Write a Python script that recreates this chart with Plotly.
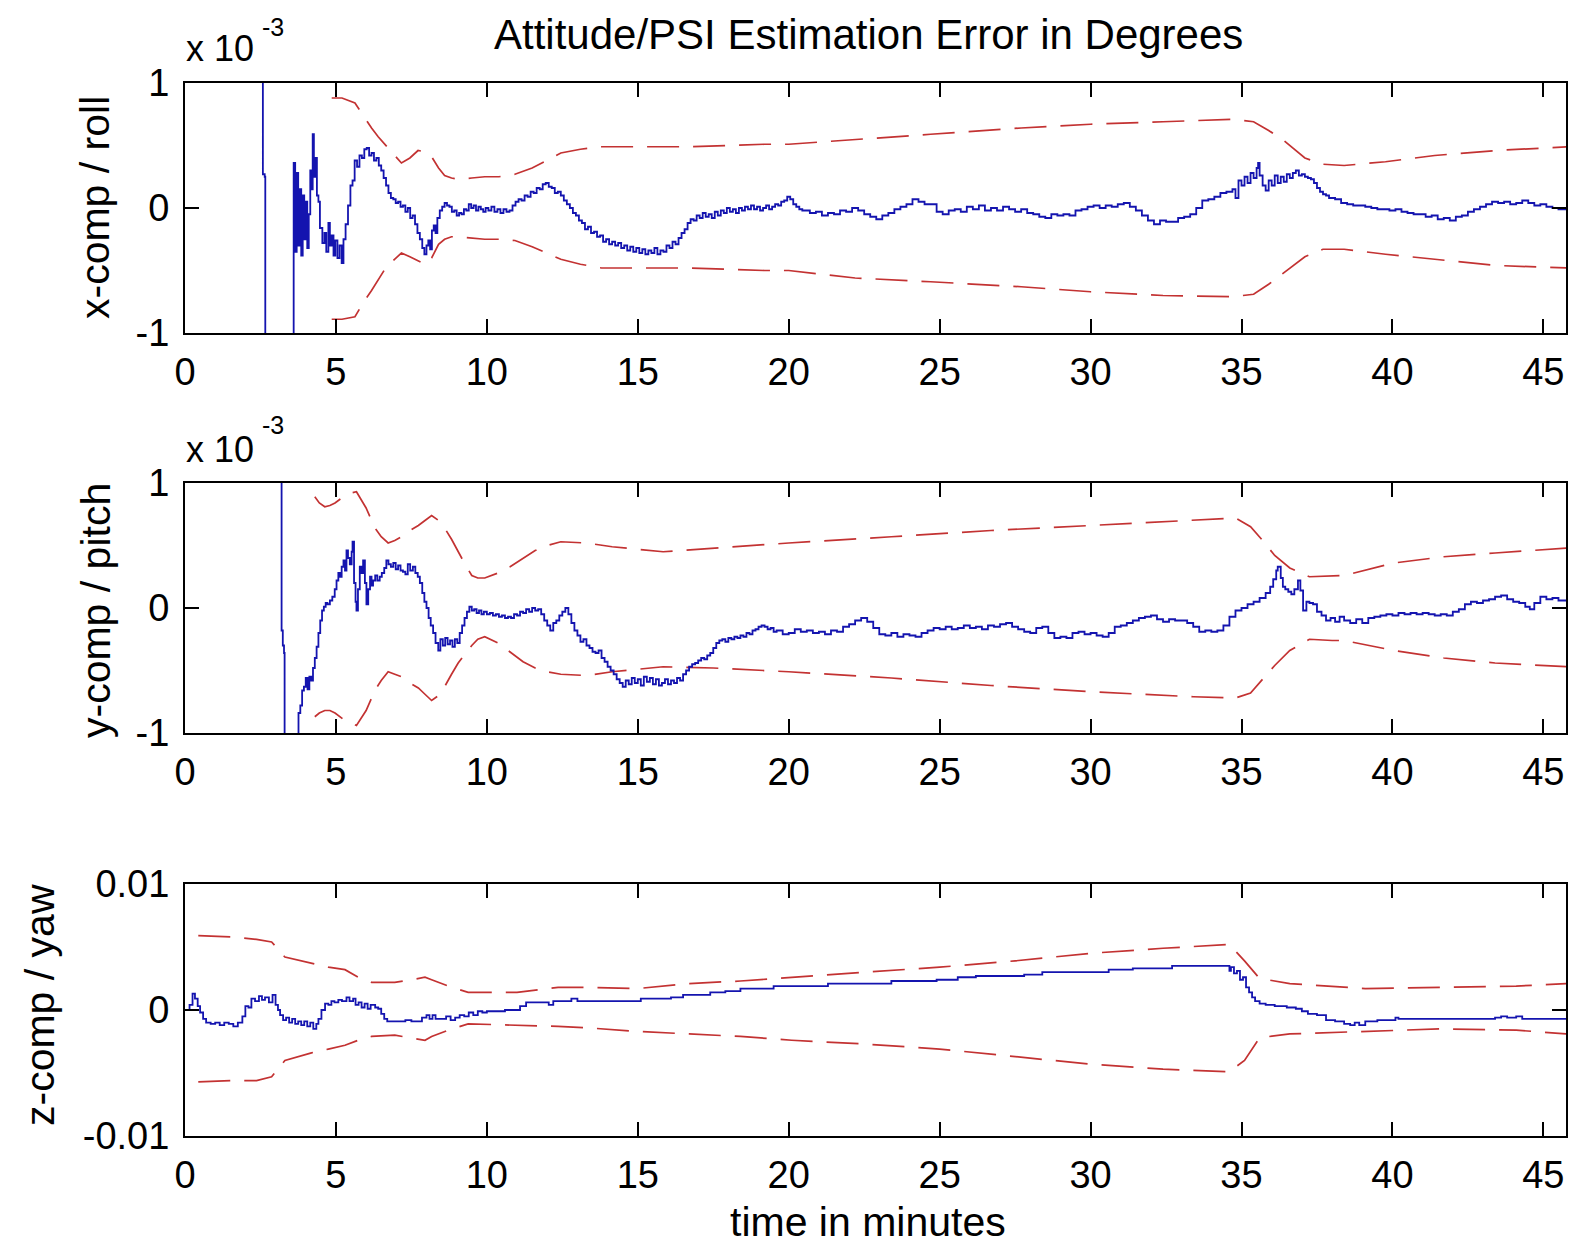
import plotly.graph_objects as go

# ---------------- data (values in units of 1e-3 degrees) ----------------
t_roll = [2.55, 2.58, 2.64, 2.66, 3.58, 3.60, 3.65, 3.70, 3.75, 3.80, 3.85, 3.90, 3.95, 4.00, 4.05, 4.10,
          4.15, 4.20, 4.23, 4.27, 4.32, 4.37, 4.42, 4.47, 4.55, 4.62, 4.68, 4.75, 4.80, 4.86, 4.92, 4.98,
          5.05, 5.12, 5.19, 5.25, 5.32, 5.40, 5.48, 5.55, 5.62, 5.70, 5.78, 5.86, 5.94, 6.02, 6.10, 6.18,
          6.26, 6.34, 6.42, 6.50, 6.58, 6.66, 6.74, 6.82, 6.90, 6.98, 7.06, 7.14, 7.22, 7.30, 7.38, 7.46,
          7.54, 7.62, 7.70, 7.78, 7.86, 7.93, 8.00, 8.06, 8.12, 8.18, 8.24, 8.30, 8.36, 8.44, 8.52, 8.60,
          8.68, 8.76, 8.84, 8.92, 9.00, 9.08, 9.16, 9.24, 9.32, 9.40, 9.48, 9.56, 9.64, 9.72, 9.80, 9.88,
          9.96, 10.05, 10.15, 10.25, 10.35, 10.45, 10.55, 10.65, 10.75, 10.85, 10.95, 11.05, 11.15, 11.25,
          11.35, 11.45, 11.55, 11.65, 11.75, 11.85, 11.95, 12.05, 12.15, 12.25, 12.35, 12.45, 12.55, 12.65,
          12.75, 12.85, 12.95, 13.05, 13.15, 13.25, 13.35, 13.45, 13.55, 13.65, 13.75, 13.85, 13.95, 14.05,
          14.15, 14.25, 14.35, 14.45, 14.55, 14.65, 14.75, 14.85, 14.95, 15.05, 15.15, 15.25, 15.35, 15.45,
          15.55, 15.65, 15.75, 15.85, 15.95, 16.05, 16.15, 16.25, 16.35, 16.45, 16.55, 16.65, 16.75, 16.85,
          16.95, 17.05, 17.15, 17.25, 17.35, 17.45, 17.55, 17.65, 17.75, 17.85, 17.95, 18.05, 18.15, 18.25,
          18.35, 18.45, 18.55, 18.65, 18.75, 18.85, 18.95, 19.05, 19.15, 19.25, 19.35, 19.45, 19.55, 19.65,
          19.75, 19.85, 19.95, 20.05, 20.15, 20.25, 20.35, 20.45, 20.5, 20.7, 20.9, 21.1, 21.3, 21.5, 21.7,
          21.9, 22.1, 22.3, 22.5, 22.7, 22.9, 23.1, 23.3, 23.5, 23.7, 23.9, 24.1, 24.3, 24.5, 24.7, 24.9,
          25.1, 25.3, 25.5, 25.7, 25.9, 26.1, 26.3, 26.5, 26.7, 26.9, 27.1, 27.3, 27.5, 27.7, 27.9, 28.1,
          28.3, 28.5, 28.7, 28.9, 29.1, 29.3, 29.5, 29.7, 29.9, 30.1, 30.3, 30.5, 30.7, 30.9, 31.1, 31.3,
          31.5, 31.7, 31.9, 32.1, 32.3, 32.5, 32.7, 32.9, 33.1, 33.3, 33.5, 33.7, 33.9, 34.1, 34.3, 34.5,
          34.7, 34.8, 34.9, 35.0, 35.1, 35.2, 35.3, 35.4, 35.5, 35.55, 35.6, 35.7, 35.8, 35.9, 36.0, 36.1,
          36.2, 36.3, 36.4, 36.5, 36.6, 36.7, 36.8, 36.9, 37.0, 37.1, 37.2, 37.3, 37.4, 37.5, 37.6, 37.7,
          37.8, 37.9, 38.1, 38.3, 38.5, 38.7, 38.9, 39.1, 39.3, 39.5, 39.7, 39.9, 40.1, 40.3, 40.5, 40.7,
          40.9, 41.1, 41.3, 41.5, 41.7, 41.9, 42.1, 42.3, 42.5, 42.7, 42.9, 43.1, 43.3, 43.5, 43.7, 43.9,
          44.1, 44.3, 44.5, 44.7, 44.9, 45.1, 45.3, 45.5, 45.8]
roll = [8, 0.27, 0.25, -8, -8, 0.36, -0.35, 0.28, -0.30, 0.15, -0.38, 0.10, -0.25, 0.05, -0.32, -0.05,
        0.30, 0.15, 0.59, 0.25, 0.40, 0.10, 0.05, -0.16, -0.28, -0.20, -0.35, -0.12, -0.30, -0.22, -0.38, -0.26,
        -0.40, -0.30, -0.44, -0.25, -0.13, 0.02, 0.18, 0.22, 0.38, 0.33, 0.42, 0.40, 0.47, 0.48, 0.42, 0.44,
        0.38, 0.40, 0.34, 0.30, 0.24, 0.18, 0.12, 0.08, 0.07, 0.04, 0.05, 0.01, 0.02, -0.03, 0.00, -0.08,
        -0.06, -0.13, -0.20, -0.25, -0.32, -0.37, -0.30, -0.26, -0.33, -0.18, -0.14, -0.20, -0.08, -0.02, 0.01, 0.04,
        0.02, 0.01, -0.03, -0.02, -0.06, -0.04, -0.05, -0.01, -0.02, 0.03, 0.00, 0.02, -0.02, 0.01, -0.01, -0.03,
        0.00, -0.02, 0.01, -0.03, -0.01, -0.04, -0.01, -0.03, -0.02, 0.02, 0.05, 0.07, 0.06, 0.10,
        0.09, 0.13, 0.12, 0.16, 0.15, 0.19, 0.20, 0.17, 0.16, 0.12, 0.13, 0.10, 0.06, 0.03,
        0.00, -0.04, -0.06, -0.10, -0.12, -0.17, -0.15, -0.20, -0.19, -0.23, -0.22, -0.27, -0.25, -0.29,
        -0.27, -0.30, -0.28, -0.32, -0.30, -0.34, -0.31, -0.35, -0.32, -0.36, -0.33, -0.37, -0.34, -0.36,
        -0.32, -0.37, -0.34, -0.35, -0.30, -0.32, -0.27, -0.29, -0.24, -0.20, -0.17, -0.12, -0.09, -0.10,
        -0.06, -0.08, -0.04, -0.07, -0.05, -0.08, -0.03, -0.06, -0.02, -0.04, 0.00, -0.03, -0.01, -0.04,
        0.00, -0.02, 0.01, -0.01, 0.02, -0.01, 0.01, -0.02, 0.00, 0.02, -0.01, 0.01, 0.03, 0.02,
        0.05, 0.06, 0.09, 0.07, 0.03, 0.01, -0.01, -0.02, -0.02, -0.04, -0.03, -0.06, -0.04, -0.05, -0.02,
        -0.03, 0.00, -0.02, -0.05, -0.07, -0.09, -0.06, -0.04, -0.01, 0.01, 0.03, 0.07, 0.05, 0.03, 0.03, -0.03,
        -0.05, -0.02, -0.01, -0.03, 0.01, -0.01, 0.02, -0.02, 0.00, -0.02, 0.01, -0.01, -0.03, -0.01, -0.04, -0.05,
        -0.07, -0.08, -0.05, -0.06, -0.05, -0.06, -0.02, -0.01, 0.01, 0.02, 0.00, 0.02, 0.01, 0.03, 0.04, 0.01,
        -0.02, -0.06, -0.10, -0.13, -0.10, -0.11, -0.11, -0.08, -0.07, -0.05, 0.00, 0.06, 0.07, 0.09, 0.12, 0.13,
        0.15, 0.08, 0.22, 0.18, 0.25, 0.20, 0.28, 0.24, 0.32, 0.36, 0.26, 0.18, 0.14, 0.22, 0.18, 0.26,
        0.20, 0.25, 0.21, 0.27, 0.24, 0.28, 0.30, 0.26, 0.27, 0.25, 0.24, 0.23, 0.20, 0.16, 0.13, 0.11,
        0.10, 0.08, 0.07, 0.04, 0.03, 0.02, 0.02, 0.01, 0.00, -0.01, -0.01, -0.02, -0.01, -0.03, -0.04, -0.05,
        -0.05, -0.07, -0.06, -0.09, -0.08, -0.10, -0.07, -0.06, -0.03, -0.01, 0.01, 0.03, 0.05, 0.04, 0.05, 0.03,
        0.04, 0.06, 0.04, 0.02, 0.03, 0.01, 0.00, -0.01, -0.01]

t_roll_bound = [4.86, 5.2, 5.63, 5.9, 6.18, 6.4, 6.62, 6.9, 7.17, 7.45, 7.72, 7.95, 8.17, 8.4, 8.6, 8.83,
                9.05, 9.5, 9.93, 10.4, 10.93, 11.5, 12.0, 12.45, 13.1, 13.8, 15.0, 16.7, 18.0, 19.2, 20.0,
                22.2, 24.7, 27.7, 30.0, 32.4, 34.7, 35.4, 35.9, 36.4, 36.75, 37.1, 37.7, 38.4, 39.77, 41.4,
                43.45, 45.8]
roll_upper = [0.88, 0.88, 0.84, 0.74, 0.64, 0.57, 0.51, 0.43, 0.36, 0.40, 0.46, 0.45, 0.41, 0.32, 0.26, 0.24,
              0.23, 0.24, 0.25, 0.25, 0.27, 0.32, 0.38, 0.44, 0.47, 0.49, 0.49, 0.49, 0.50, 0.51, 0.51,
              0.55, 0.59, 0.64, 0.67, 0.69, 0.71, 0.69, 0.62, 0.54, 0.47, 0.40, 0.35, 0.34, 0.37, 0.42,
              0.46, 0.49]
roll_lower = [-0.89, -0.89, -0.87, -0.76, -0.66, -0.57, -0.49, -0.42, -0.36, -0.39, -0.42, -0.45, -0.40, -0.29,
              -0.25, -0.23, -0.23, -0.24, -0.25, -0.25, -0.26, -0.31, -0.36, -0.41, -0.45, -0.48, -0.48, -0.48,
              -0.49, -0.50, -0.50, -0.56, -0.59, -0.63, -0.67, -0.70, -0.71, -0.69, -0.61, -0.52, -0.45, -0.39,
              -0.33, -0.33, -0.37, -0.41, -0.46, -0.48]

t_pitch = [3.18, 3.20, 3.24, 3.28, 3.30, 3.74, 3.76, 3.82, 3.88, 3.94, 4.00, 4.06, 4.12, 4.18, 4.24, 4.30,
           4.36, 4.42, 4.48, 4.54, 4.60, 4.66, 4.72, 4.80, 4.88, 4.96, 5.02, 5.08, 5.14, 5.19, 5.25, 5.30,
           5.35, 5.40, 5.46, 5.52, 5.55, 5.60, 5.65, 5.68, 5.73, 5.79, 5.85, 5.90, 5.96, 6.01, 6.07, 6.13,
           6.18, 6.23, 6.30, 6.37, 6.45, 6.52, 6.60, 6.67, 6.74, 6.82, 6.90, 6.98, 7.06, 7.14, 7.22, 7.30,
           7.38, 7.46, 7.55, 7.63, 7.71, 7.78, 7.86, 7.93, 8.00, 8.07, 8.14, 8.22, 8.30, 8.39, 8.46, 8.54,
           8.62, 8.70, 8.78, 8.86, 8.94, 9.02, 9.10, 9.18, 9.26, 9.34, 9.42, 9.50, 9.58, 9.66, 9.74, 9.82,
           9.90, 10.0, 10.1, 10.2, 10.3, 10.4, 10.5, 10.6, 10.7, 10.8, 10.9, 11.0, 11.1, 11.2, 11.3, 11.4,
           11.5, 11.6, 11.7, 11.8, 11.9, 12.0, 12.1, 12.2, 12.3, 12.4, 12.5, 12.6, 12.7, 12.8, 12.9, 13.0,
           13.1, 13.2, 13.3, 13.4, 13.5, 13.6, 13.7, 13.8, 13.9, 14.0, 14.1, 14.2, 14.3, 14.4, 14.5, 14.6,
           14.7, 14.8, 14.9, 15.0, 15.1, 15.2, 15.3, 15.4, 15.5, 15.6, 15.7, 15.8, 15.9, 16.0, 16.1, 16.2,
           16.3, 16.4, 16.5, 16.6, 16.7, 16.8, 16.9, 17.0, 17.1, 17.2, 17.3, 17.4, 17.5, 17.6, 17.7, 17.8,
           17.9, 18.0, 18.1, 18.2, 18.3, 18.4, 18.5, 18.6, 18.7, 18.8, 18.9, 19.0, 19.1, 19.2, 19.3, 19.4,
           19.5, 19.6, 19.8, 20.0, 20.2, 20.4, 20.6, 20.8, 21.0, 21.2, 21.4, 21.6, 21.8, 22.0, 22.2, 22.4,
           22.6, 22.8, 23.0, 23.2, 23.4, 23.6, 23.8, 24.0, 24.2, 24.4, 24.6, 24.8, 25.0, 25.2, 25.4, 25.6,
           25.8, 26.0, 26.2, 26.4, 26.6, 26.8, 27.0, 27.2, 27.4, 27.6, 27.8, 28.0, 28.2, 28.4, 28.6, 28.8,
           29.0, 29.2, 29.4, 29.6, 29.8, 30.0, 30.2, 30.4, 30.6, 30.8, 31.0, 31.2, 31.4, 31.6, 31.8, 32.0,
           32.2, 32.4, 32.6, 32.8, 33.0, 33.2, 33.4, 33.6, 33.8, 34.0, 34.2, 34.4, 34.6, 34.8, 35.0, 35.2,
           35.4, 35.6, 35.8, 35.95, 36.05, 36.15, 36.2, 36.3, 36.37, 36.45, 36.55, 36.65, 36.75, 36.87, 36.95,
           37.04, 37.15, 37.25, 37.37, 37.5, 37.65, 37.8, 37.95, 38.1, 38.25, 38.4, 38.6, 38.8, 39.0, 39.2,
           39.4, 39.6, 39.8, 40.0, 40.2, 40.4, 40.6, 40.8, 41.0, 41.2, 41.4, 41.6, 41.8, 42.0, 42.2, 42.4,
           42.6, 42.8, 43.0, 43.2, 43.4, 43.6, 43.8, 44.0, 44.2, 44.4, 44.55, 44.7, 44.9, 45.1, 45.3, 45.5,
           45.8]
pitch = [8, -0.18, -0.30, -0.36, -8, -8, -0.84, -0.78, -0.66, -0.63, -0.56, -0.65, -0.55, -0.58, -0.48, -0.40,
         -0.31, -0.20, -0.10, -0.02, 0.01, 0.04, 0.03, 0.06, 0.09, 0.15, 0.22, 0.28, 0.25, 0.33, 0.38, 0.30,
         0.46, 0.40, 0.35, 0.45, 0.53, 0.20, 0.05, -0.02, 0.15, 0.33, 0.28, 0.38, 0.20, 0.03, 0.15, 0.25,
         0.18, 0.22, 0.26, 0.22, 0.25, 0.28, 0.32, 0.38, 0.35, 0.33, 0.36, 0.31, 0.34, 0.30, 0.29, 0.27,
         0.35, 0.30, 0.33, 0.28, 0.25, 0.20, 0.12, 0.05, 0.00, -0.08, -0.14, -0.20, -0.28, -0.34, -0.25, -0.30,
         -0.24, -0.29, -0.26, -0.31, -0.25, -0.28, -0.20, -0.14, -0.08, -0.03, 0.01, -0.02, -0.01, -0.04, -0.02, -0.05,
         -0.03, -0.05, -0.04, -0.06, -0.05, -0.07, -0.06, -0.08, -0.07, -0.08, -0.05, -0.06, -0.03, -0.04, -0.01, -0.03,
         0.00, -0.02, -0.01, -0.05, -0.10, -0.14, -0.18, -0.12, -0.10, -0.06, -0.03, 0.00, -0.05, -0.12, -0.18, -0.22,
         -0.27, -0.25, -0.30, -0.32, -0.35, -0.36, -0.34, -0.40, -0.43, -0.47, -0.50, -0.53, -0.57, -0.60, -0.63, -0.58,
         -0.61, -0.56, -0.60, -0.57, -0.62, -0.55, -0.59, -0.56, -0.61, -0.57, -0.62, -0.60, -0.57, -0.61, -0.58, -0.60,
         -0.56, -0.58, -0.53, -0.50, -0.47, -0.45, -0.44, -0.42, -0.40, -0.41, -0.38, -0.36, -0.32, -0.28, -0.26, -0.25,
         -0.27, -0.24, -0.25, -0.23, -0.24, -0.22, -0.23, -0.20, -0.21, -0.18, -0.17, -0.15, -0.14, -0.15, -0.17, -0.16,
         -0.19, -0.18, -0.21, -0.20, -0.17, -0.19, -0.18, -0.20, -0.19, -0.21, -0.18, -0.19, -0.15, -0.13, -0.10, -0.08,
         -0.11, -0.16, -0.21, -0.22, -0.20, -0.23, -0.21, -0.22, -0.23, -0.20, -0.18, -0.16, -0.17, -0.15, -0.17, -0.16,
         -0.14, -0.16, -0.15, -0.17, -0.14, -0.15, -0.13, -0.12, -0.15, -0.17, -0.19, -0.20, -0.16, -0.15, -0.20, -0.24,
         -0.23, -0.24, -0.20, -0.19, -0.21, -0.20, -0.22, -0.23, -0.20, -0.15, -0.14, -0.12, -0.10, -0.08, -0.07, -0.06,
         -0.09, -0.11, -0.09, -0.10, -0.10, -0.12, -0.15, -0.19, -0.18, -0.19, -0.18, -0.14, -0.07, -0.02, 0.00, 0.03,
         0.05, 0.08, 0.12, 0.17, 0.23, 0.30, 0.33, 0.24, 0.17, 0.15, 0.13, 0.11, 0.15, 0.22, 0.14,
         -0.02, 0.05, 0.04, 0.03, -0.03, -0.06, -0.10, -0.08, -0.11, -0.07, -0.10, -0.12, -0.09, -0.12, -0.08,
         -0.07, -0.06, -0.05, -0.06, -0.04, -0.05, -0.04, -0.05, -0.04, -0.05, -0.06, -0.05, -0.06, -0.03, -0.01, 0.03,
         0.05, 0.04, 0.06, 0.07, 0.09, 0.10, 0.07, 0.05, 0.04, 0.01, -0.01, 0.04, 0.09, 0.07, 0.08, 0.06,
         0.07]

t_pitch_bound = [4.3, 4.45, 4.63, 4.8, 4.97, 5.15, 5.3, 5.5, 5.68, 6.0, 6.29, 6.5, 6.73, 6.95, 7.17, 7.45,
                 7.73, 7.95, 8.17, 8.4, 8.6, 8.83, 9.05, 9.3, 9.5, 9.7, 9.93, 10.37, 10.77, 11.2, 11.6, 12.0,
                 12.45, 13.3, 14.15, 15.84, 17.5, 20.0, 23.4, 26.7, 30.0, 33.4, 34.8, 35.3, 35.7, 36.1, 36.6,
                 37.25, 38.0, 38.4, 40.05, 41.7, 43.4, 45.8]
pitch_upper = [0.89, 0.84, 0.81, 0.82, 0.84, 0.87, 0.90, 0.92, 0.93, 0.80, 0.64, 0.57, 0.52, 0.54, 0.57, 0.62,
               0.66, 0.70, 0.74, 0.70, 0.64, 0.55, 0.45, 0.34, 0.26, 0.24, 0.24, 0.28, 0.33, 0.40, 0.46, 0.50,
               0.53, 0.52, 0.49, 0.45, 0.48, 0.52, 0.57, 0.62, 0.66, 0.70, 0.72, 0.65, 0.54, 0.42, 0.32,
               0.25, 0.26, 0.26, 0.36, 0.41, 0.44, 0.48]
pitch_lower = [-0.87, -0.84, -0.82, -0.82, -0.84, -0.87, -0.90, -0.92, -0.94, -0.82, -0.66, -0.58, -0.51, -0.53,
               -0.55, -0.60, -0.64, -0.69, -0.74, -0.70, -0.63, -0.53, -0.44, -0.36, -0.30, -0.25, -0.23, -0.28,
               -0.35, -0.43, -0.48, -0.51, -0.53, -0.54, -0.51, -0.47, -0.48, -0.51, -0.56, -0.62, -0.67, -0.71,
               -0.72, -0.68, -0.57, -0.46, -0.34, -0.25, -0.26, -0.26, -0.34, -0.40, -0.44, -0.47]

t_yaw = [0.0, 0.15, 0.25, 0.33, 0.42, 0.5, 0.6, 0.7, 0.85, 1.0, 1.15, 1.3, 1.45, 1.6, 1.75, 1.9, 2.0, 2.1,
         2.2, 2.32, 2.45, 2.55, 2.65, 2.78, 2.9, 3.0, 3.08, 3.15, 3.25, 3.35, 3.45, 3.55, 3.65, 3.75, 3.85,
         3.95, 4.05, 4.15, 4.25, 4.35, 4.42, 4.52, 4.64, 4.75, 4.85, 4.95, 5.08, 5.2, 5.35, 5.45, 5.57, 5.65,
         5.75, 5.85, 5.95, 6.05, 6.15, 6.3, 6.4, 6.5, 6.6, 6.7, 6.9, 7.1, 7.3, 7.5, 7.7, 7.85, 8.0, 8.1, 8.2,
         8.3, 8.5, 8.65, 8.8, 8.95, 9.1, 9.25, 9.4, 9.55, 9.7, 9.85, 10.0, 10.3, 10.6, 10.9, 11.1, 11.3, 11.6,
         11.9, 12.05, 12.2, 12.5, 12.8, 13.0, 13.3, 13.8, 14.3, 14.8, 15.1, 15.6, 16.1, 16.5, 17.0, 17.4, 17.9,
         18.4, 19.0, 19.5, 20.0, 20.7, 21.3, 22.0, 22.8, 23.4, 24.2, 24.9, 25.6, 26.2, 27.0, 27.8, 28.4, 29.2,
         29.9, 30.6, 31.4, 32.1, 32.7, 33.4, 34.0, 34.5, 34.6, 34.65, 34.75, 34.85, 34.95, 35.05, 35.15, 35.25,
         35.35, 35.45, 35.6, 35.8, 36.1, 36.5, 36.8, 37.0, 37.2, 37.5, 37.8, 38.1, 38.4, 38.6, 38.75, 38.9,
         39.1, 39.5, 40.0, 40.1, 40.2, 41.0, 42.0, 43.0, 43.4, 43.6, 43.8, 44.1, 44.3, 45.0, 45.8]
yaw = [0.0, 0.4, 1.3, 0.9, 0.3, -0.2, -0.7, -1.0, -1.1, -1.0, -1.2, -1.0, -1.1, -1.3, -1.0, -0.5, 0.3, 0.2,
       0.9, 0.7, 1.1, 0.8, 1.0, 0.6, 1.2, 0.4, 0.0, -0.4, -0.8, -0.6, -1.0, -0.7, -1.1, -0.9, -1.2,
       -0.9, -1.3, -1.0, -1.5, -1.1, -0.7, 0.0, 0.5, 0.4, 0.7, 0.6, 0.8, 0.7, 1.0, 0.7, 0.9, 0.4,
       0.6, 0.2, 0.5, 0.1, 0.4, 0.2, 0.1, -0.3, -0.7, -0.9, -0.9, -0.9, -0.8, -0.9, -0.9, -0.6, -0.4, -0.7, -0.4,
       -0.7, -0.7, -0.5, -0.8, -0.6, -0.4, -0.5, -0.2, -0.4, -0.1, -0.2, -0.1, -0.1, 0.0, 0.0, 0.3, 0.6, 0.6,
       0.6, 0.4, 0.7, 0.7, 0.9, 0.7, 0.7, 0.7, 0.7, 0.7, 0.9, 0.9, 1.0, 1.2, 1.2, 1.4, 1.5,
       1.7, 1.7, 1.9, 1.9, 1.9, 2.1, 2.1, 2.1, 2.3, 2.3, 2.4, 2.6, 2.7, 2.7, 2.8, 3.0, 3.0,
       3.0, 3.2, 3.3, 3.3, 3.5, 3.5, 3.5, 3.5, 3.1, 3.4, 2.9, 3.1, 2.4, 2.6, 1.8, 1.4,
       1.0, 0.7, 0.5, 0.4, 0.3, 0.2, 0.1, -0.1, -0.3, -0.4, -0.8, -0.9, -1.1, -1.2, -1.0, -1.2,
       -0.9, -0.8, -0.8, -0.6, -0.7, -0.7, -0.7, -0.7, -0.6, -0.5, -0.6, -0.5, -0.7, -0.7, -0.8]

t_yaw_bound = [0.44, 1.55, 2.37, 2.87, 3.31, 4.19, 4.75, 5.3, 5.74, 6.18, 6.95, 7.5, 7.95, 8.17, 8.72, 9.38,
               11.0, 12.36, 13.25, 15.0, 16.7, 18.4, 20.1, 22.5, 25.0, 27.5, 30.0, 32.4, 34.6, 35.1, 35.6,
               36.6, 39.1, 41.6, 44.1, 45.8]
yaw_upper = [5.9, 5.8, 5.6, 5.4, 4.2, 3.7, 3.4, 3.2, 2.6, 2.2, 2.2, 2.4, 2.6, 2.4, 1.9, 1.4,
             1.4, 1.8, 1.8, 1.7, 2.1, 2.3, 2.6, 3.0, 3.4, 3.9, 4.5, 4.9, 5.2, 3.9, 2.5,
             2.1, 1.7, 1.8, 1.9, 2.1]
yaw_lower = [-5.7, -5.6, -5.6, -5.3, -4.0, -3.4, -3.1, -2.8, -2.4, -2.1, -2.0, -2.2, -2.4, -2.1, -1.6, -1.1,
             -1.2, -1.3, -1.4, -1.7, -1.9, -2.1, -2.4, -2.7, -3.1, -3.7, -4.3, -4.7, -4.9, -4.0, -2.2,
             -1.9, -1.7, -1.5, -1.6, -1.9]

x_ticks = [0, 5, 10, 15, 20, 25, 30, 35, 40, 45]
small_ticks = [-1e-3, 0, 1e-3]
small_ticktext = ["-1", "0", "1"]
yaw_ticks = [-0.01, 0, 0.01]
yaw_ticktext = ["-0.01", "0", "0.01"]
SCALE = 1e-3

# ---------------- styling ----------------
W, H = 1572, 1244
FONT = "Liberation Sans, Arial, Helvetica, sans-serif"
BLUE = "rgb(20,20,175)"
RED = "rgb(195,50,50)"
DASH = "32px,14px"

fig = go.Figure()

panels = [
    ("x", "y", t_roll, roll, t_roll_bound, roll_upper, roll_lower),
    ("x2", "y2", t_pitch, pitch, t_pitch_bound, pitch_upper, pitch_lower),
    ("x3", "y3", t_yaw, yaw, t_yaw_bound, yaw_upper, yaw_lower),
]
for xa, ya, tb, vb, tr, up, lo in panels:
    fig.add_trace(go.Scatter(x=tr, y=[v * SCALE for v in up], mode="lines", xaxis=xa, yaxis=ya,
                             line=dict(color=RED, width=1.7, dash=DASH), showlegend=False))
    fig.add_trace(go.Scatter(x=tr, y=[v * SCALE for v in lo], mode="lines", xaxis=xa, yaxis=ya,
                             line=dict(color=RED, width=1.7, dash=DASH), showlegend=False))
    fig.add_trace(go.Scatter(x=tb, y=[v * SCALE for v in vb], mode="lines", xaxis=xa, yaxis=ya,
                             line=dict(color=BLUE, width=1.8, shape="hv"), showlegend=False))

xdom = [185 / W, 1566 / W]
ydoms = [
    [1 - 333 / H, 1 - 83 / H],
    [1 - 733 / H, 1 - 483 / H],
    [1 - 1136 / H, 1 - 884 / H],
]

axis_common = dict(showline=True, linecolor="black", linewidth=2, mirror="ticks", ticks="inside",
                   ticklen=14, tickwidth=2, tickcolor="black", showgrid=False, zeroline=False,
                   automargin=False, tickfont=dict(family=FONT, size=38, color="black"))

layout = dict(width=W, height=H, margin=dict(l=0, r=0, t=0, b=0, pad=0), paper_bgcolor="white",
              plot_bgcolor="white", showlegend=False, font=dict(family=FONT, color="black"))

for i, name in enumerate(["", "2", "3"]):
    layout["xaxis" + name] = dict(axis_common, domain=xdom, range=[0, 45.75], tickvals=x_ticks,
                                  anchor="y" + name, ticklabelstandoff=4)
    if i < 2:
        layout["yaxis" + name] = dict(axis_common, domain=ydoms[i], range=[-1e-3, 1e-3],
                                      tickvals=small_ticks, ticktext=small_ticktext,
                                      anchor="x" + name, ticklabelstandoff=6)
    else:
        layout["yaxis" + name] = dict(axis_common, domain=ydoms[i], range=[-0.01, 0.01],
                                      tickvals=yaw_ticks, ticktext=yaw_ticktext,
                                      anchor="x" + name, ticklabelstandoff=6)

fig.update_layout(**layout)


def ann(text, px, py, size, angle=0, xanchor="center", yanchor="middle"):
    fig.add_annotation(text=text, x=px / W, y=1 - py / H, xref="paper", yref="paper",
                       xanchor=xanchor, yanchor=yanchor, showarrow=False, textangle=angle,
                       font=dict(family=FONT, size=size, color="black"))


ann("Attitude/PSI Estimation Error in Degrees", 868, 35, 42)
# exponent labels "x 10^-3" for the first two panels
ann("x 10", 184, 71, 36, xanchor="left", yanchor="bottom")
ann("-3", 260, 27, 25, xanchor="left")
ann("x 10", 184, 472, 36, xanchor="left", yanchor="bottom")
ann("-3", 260, 425, 25, xanchor="left")
ann("x-comp / roll", 95, 208, 41, angle=-90)
ann("y-comp / pitch", 96, 611, 41, angle=-90)
ann("z-comp / yaw", 40, 1005, 41, angle=-90)
ann("time in minutes", 868, 1222, 41)

fig.write_html("out.html", config={"displayModeBar": False},
               post_script="document.body.style.margin='0px';document.body.style.overflow='hidden';")
